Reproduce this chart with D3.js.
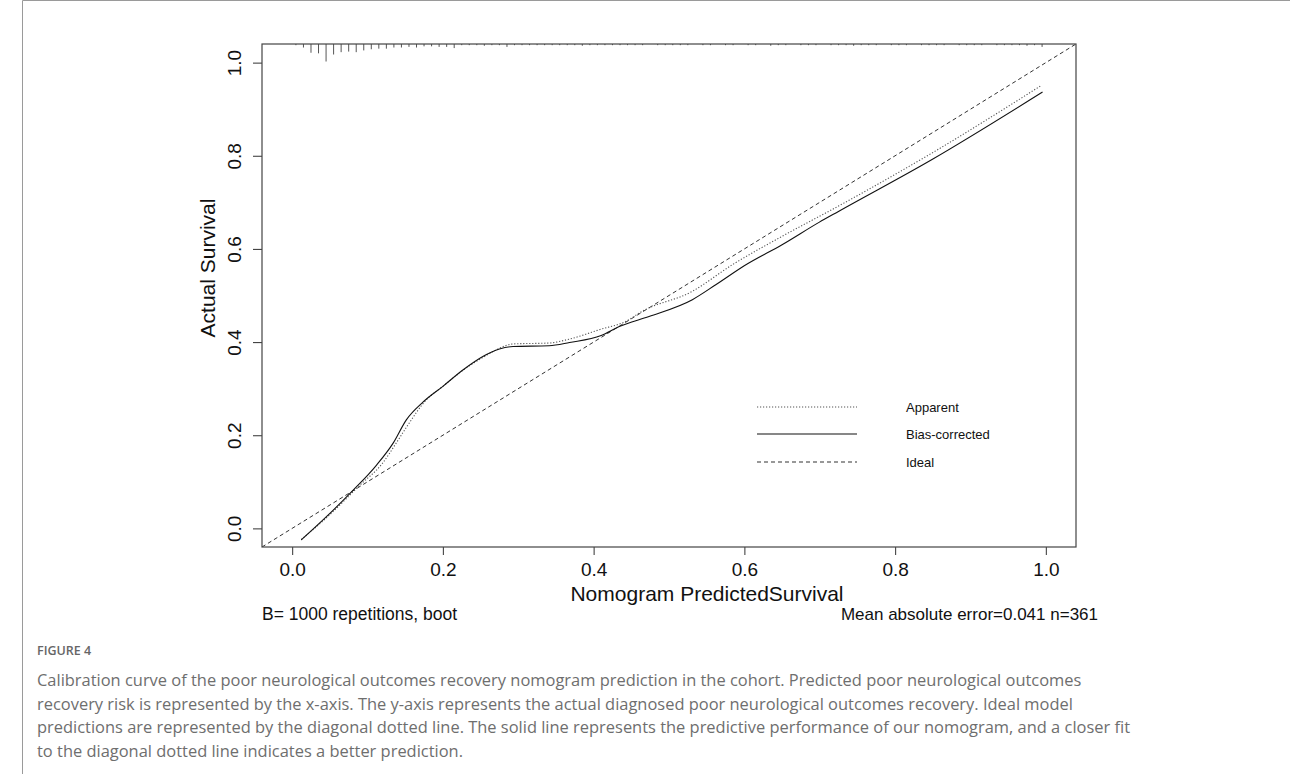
<!DOCTYPE html>
<html>
<head>
<meta charset="utf-8">
<script src="https://cdn.jsdelivr.net/npm/d3@7"></script>
<style>
  html, body { margin: 0; padding: 0; background: #fff; }
  svg { display: block; }
</style>
</head>
<body>
<svg id="chart" width="1290" height="774"></svg>
<script>
// ---------------- data ----------------
const xTicks = [0, 0.2, 0.4, 0.6, 0.8, 1.0];
const yTicks = [0, 0.2, 0.4, 0.6, 0.8, 1.0];
const tickLabels = ["0.0", "0.2", "0.4", "0.6", "0.8", "1.0"];

const predApparent = [0.012,0.045,0.09,0.12,0.138,0.152,0.178,0.2,0.227,0.253,0.271,0.293,0.341,0.368,0.4075,0.447,0.4605,0.531,0.584,0.65,0.7254,0.849,0.994];
const actApparent  = [-0.024,0.022,0.093,0.14,0.183,0.218,0.276,0.305,0.34,0.367,0.3835,0.396,0.398,0.4065,0.4265,0.448,0.4624,0.509,0.566,0.627,0.6925,0.806,0.951];

const predBias = [0.012,0.0455,0.081,0.112,0.134,0.1515,0.1735,0.2,0.2265,0.253,0.275,0.293,0.341,0.368,0.41,0.434,0.4735,0.531,0.562,0.602,0.65,0.699,0.7254,0.849,0.9956];
const actBias  = [-0.025,0.025,0.082,0.136,0.183,0.233,0.271,0.305,0.34,0.369,0.385,0.3905,0.392,0.399,0.414,0.4335,0.455,0.491,0.523,0.566,0.609,0.657,0.681,0.792,0.9368];

const idealLine = [-0.04, 1.04];

const rugX = [0.005,0.015,0.025,0.035,0.045,0.055,0.065,0.075,0.085,0.095,
              0.105,0.115,0.125,0.135,0.145,0.155,0.165,0.175,0.185,0.195,
              0.205,0.215,0.225,0.235,0.245,0.255,0.265,0.275,0.285,0.295,
              0.305,0.315,0.325,0.335,0.345,0.355,0.365,0.375,0.385,0.395,
              0.405,0.415,0.425,0.435,0.445,0.455,0.465,0.475,0.485,0.495,
              0.505,0.515,0.525,0.535,0.545,0.555,0.565,0.575,0.585,0.595,
              0.605,0.615,0.625,0.635,0.645,0.655,0.665,0.675,0.685,0.695,
              0.705,0.715,0.725,0.735,0.745,0.755,0.765,0.775,0.785,0.795,
              0.805,0.815,0.825,0.835,0.845,0.855,0.865,0.875,0.885,0.895,
              0.905,0.915,0.925,0.935,0.945,0.955,0.965,0.975,0.985,0.995];
const rugCounts = [2,6,15,16,30,18,14,13,14,11,
                   9,8,8,6,6,5,6,4,4,5,
                   5,7,2,2,2,3,2,2,5,2,
                   2,2,2,2,1,2,1,2,3,1,
                   2,1,2,1,2,1,2,0,1,2,
                   1,1,1,0,1,1,0,1,1,0,
                   1,1,0,3,1,1,0,1,1,1,
                   0,1,1,1,3,1,1,1,0,1,
                   1,1,0,1,1,1,1,0,1,1,
                   1,1,0,1,1,2,2,3,2,5];

const legendItems = ["Apparent", "Bias-corrected", "Ideal"];
const xTitle = "Nomogram PredictedSurvival";
const yTitle = "Actual Survival";
const noteLeft = "B= 1000 repetitions, boot";
const noteRight = "Mean absolute error=0.041 n=361";
const figLabel = "FIGURE 4";
const captionLines = [
  "Calibration curve of the poor neurological outcomes recovery nomogram prediction in the cohort. Predicted poor neurological outcomes",
  "recovery risk is represented by the x-axis. The y-axis represents the actual diagnosed poor neurological outcomes recovery. Ideal model",
  "predictions are represented by the diagonal dotted line. The solid line represents the predictive performance of our nomogram, and a closer fit",
  "to the diagonal dotted line indicates a better prediction."
];

// ---------------- layout ----------------
const svg = d3.select("#chart");
const plot = { left: 262, right: 1076, top: 44, bottom: 547 };
const rFont = "'Liberation Sans', Arial, Helvetica, sans-serif";
const axisColor = "#444";

const x = d3.scaleLinear().domain([-0.04, 1.04]).range([plot.left, plot.right]);
const y = d3.scaleLinear().domain([-0.04, 1.04]).range([plot.bottom, plot.top]);

// outer frame
svg.append("path")
  .attr("d", `M22.5,774 L22.5,0.5 L1290,0.5`)
  .attr("fill", "none").attr("stroke", "#9a9a9a").attr("stroke-width", 1);

const g = svg.append("g");

// clip
svg.append("defs").append("clipPath").attr("id", "clip")
  .append("rect").attr("x", plot.left).attr("y", plot.top)
  .attr("width", plot.right - plot.left).attr("height", plot.bottom - plot.top);

// rug along top
const rugLen = d3.scaleLinear().domain([0, d3.max(rugCounts)]).range([0, 17.5]);
g.append("g").selectAll("line")
  .data(rugX.map((v, i) => ({ v, c: rugCounts[i] })).filter(d => d.c > 0))
  .join("line")
  .attr("x1", d => x(d.v)).attr("x2", d => x(d.v))
  .attr("y1", plot.top).attr("y2", d => plot.top + Math.max(1.2, rugLen(d.c)))
  .attr("stroke", "#555").attr("stroke-width", 1);

// lines
const lineGen = d3.line().x(d => x(d[0])).y(d => y(d[1])).curve(d3.curveMonotoneX);
const lines = g.append("g").attr("clip-path", "url(#clip)");

lines.append("path")
  .datum(idealLine.map(v => [v, v]))
  .attr("d", d3.line().x(d => x(d[0])).y(d => y(d[1])))
  .attr("fill", "none").attr("stroke", "#333").attr("stroke-width", 1)
  .attr("stroke-dasharray", "4,3");

lines.append("path")
  .datum(predApparent.map((v, i) => [v, actApparent[i]]))
  .attr("d", lineGen)
  .attr("fill", "none").attr("stroke", "#555").attr("stroke-width", 1.1)
  .attr("stroke-dasharray", "1.2,1.8");

lines.append("path")
  .datum(predBias.map((v, i) => [v, actBias[i]]))
  .attr("d", lineGen)
  .attr("fill", "none").attr("stroke", "#111").attr("stroke-width", 1.1);

// box
g.append("rect")
  .attr("x", plot.left).attr("y", plot.top)
  .attr("width", plot.right - plot.left).attr("height", plot.bottom - plot.top)
  .attr("fill", "none").attr("stroke", axisColor).attr("stroke-width", 1.2);

// x axis
const xAxis = g.append("g").attr("transform", `translate(0,${plot.bottom})`)
  .call(d3.axisBottom(x).tickValues(xTicks).tickSize(8)
        .tickFormat((d, i) => tickLabels[i]));
xAxis.select(".domain").remove();
xAxis.selectAll(".tick line").attr("stroke", axisColor).attr("stroke-width", 1.1);
xAxis.selectAll(".tick text").attr("font-family", rFont).attr("font-size", 19)
  .attr("fill", "#111").attr("y", 29).attr("dy", null);

// y axis
const yAxis = g.append("g").attr("transform", `translate(${plot.left},0)`)
  .call(d3.axisLeft(y).tickValues(yTicks).tickSize(9).tickFormat((d, i) => tickLabels[i]));
yAxis.select(".domain").remove();
yAxis.selectAll(".tick line").attr("stroke", axisColor).attr("stroke-width", 1.1);
yAxis.selectAll(".tick text")
  .attr("font-family", rFont).attr("font-size", 19).attr("fill", "#111")
  .attr("x", null).attr("dy", null)
  .attr("text-anchor", "middle")
  .attr("transform", "translate(-21,0) rotate(-90)");

// axis titles
g.append("text").attr("x", 707).attr("y", 601)
  .attr("text-anchor", "middle").attr("font-family", rFont).attr("font-size", 21)
  .attr("fill", "#111").text(xTitle);
g.append("text").attr("transform", `translate(215,268) rotate(-90)`)
  .attr("text-anchor", "middle").attr("font-family", rFont).attr("font-size", 21)
  .attr("fill", "#111").text(yTitle);

// notes
g.append("text").attr("x", 262).attr("y", 620).attr("font-family", rFont)
  .attr("font-size", 17.5).attr("fill", "#111").text(noteLeft);
g.append("text").attr("x", 1098).attr("y", 620).attr("text-anchor", "end")
  .attr("font-family", rFont).attr("font-size", 17).attr("fill", "#111").text(noteRight);

// legend
const legStyles = [
  { dash: "1.2,1.8", color: "#555" },
  { dash: null, color: "#111" },
  { dash: "4,3", color: "#333" }
];
const legRowY = [407, 434, 462];
const leg = g.append("g");
legendItems.forEach((name, i) => {
  leg.append("line").attr("x1", 757).attr("x2", 857)
    .attr("y1", legRowY[i]).attr("y2", legRowY[i])
    .attr("stroke", legStyles[i].color).attr("stroke-width", 1.1)
    .attr("stroke-dasharray", legStyles[i].dash);
  leg.append("text").attr("x", 906).attr("y", legRowY[i]).attr("dy", "0.35em")
    .attr("font-family", rFont).attr("font-size", 13).attr("fill", "#111").text(name);
});

// caption
const capFont = "'Open Sans', 'Noto Sans', Lato, sans-serif";
svg.append("text").attr("x", 37).attr("y", 655)
  .attr("font-family", capFont).attr("font-size", 12.5).attr("font-weight", 600)
  .attr("fill", "#666").text(figLabel);

const capBase = [686, 709.5, 733, 756.5];
const capTexts = captionLines.map((line, i) =>
  svg.append("text").attr("x", 37).attr("y", capBase[i])
    .attr("font-family", capFont).attr("font-size", 16)
    .attr("fill", "#6e6e6e").text(line));
// fit third line to its measured target width
const w2 = capTexts[2].node().getComputedTextLength();
const fs = 16 * (1094 / w2);
capTexts.forEach(t => t.attr("font-size", fs));
</script>
</body>
</html>
